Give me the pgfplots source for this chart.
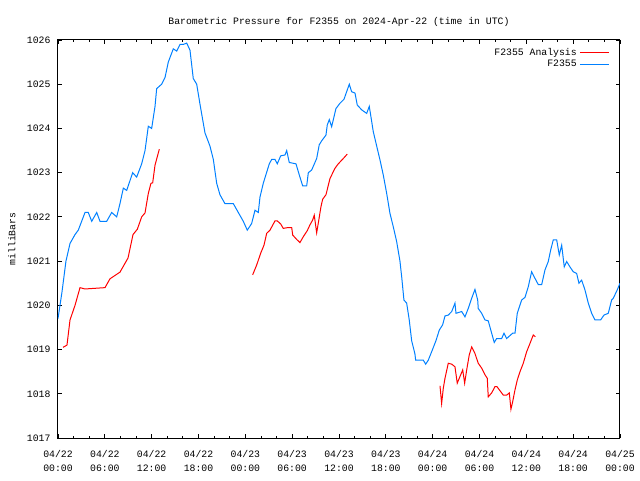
\documentclass[border=0pt]{standalone}
\usepackage{pgfplots}
\pgfplotsset{compat=1.18}
\usepackage{fontspec}
\setmainfont{Liberation Mono}
\definecolor{cblue}{RGB}{0,128,255}
\definecolor{cred}{RGB}{255,0,0}
\begin{document}
\fontsize{7.35}{9.75}\selectfont
\begin{tikzpicture}[x=1pt,y=1pt]
\useasboundingbox (-43.5,-31.5) rectangle (436.5,328.5);
\begin{axis}[
  at={(0,0)}, anchor=south west,
  scale only axis, width=421.5pt, height=298.5pt,
  xmin=0, xmax=72, ymin=1017, ymax=1026,
  xtick={0,6,...,72}, minor x tick num=2,
  ytick={1017,1018,...,1026},
  xticklabels={{04/22\\00:00},{04/22\\06:00},{04/22\\12:00},{04/22\\18:00},{04/23\\00:00},{04/23\\06:00},{04/23\\12:00},{04/23\\18:00},{04/24\\00:00},{04/24\\06:00},{04/24\\12:00},{04/24\\18:00},{04/25\\00:00}},
  xticklabel style={align=center, font=\fontsize{7.35}{10}\selectfont, yshift=-7pt},
  yticklabel style={xshift=-3pt},
  /pgf/number format/assume math mode=true,
  /pgf/number format/1000 sep={},
  major tick length=3pt, minor tick length=1.5pt,
  tick style={black, line width=0.6pt},
  axis line style={line width=0.75pt},
  title={Barometric Pressure for F2355 on 2024-Apr-22 (time in UTC)},
  title style={at={(axis description cs:0.5,1)}, anchor=center, yshift=7.5pt},
  ylabel={milliBars},
  ylabel style={at={(axis description cs:-0.0819,0.5)}, anchor=center, rotate=0},
  unbounded coords=jump,
  legend style={draw=none, fill=none, at={(axis description cs:1,1)}, anchor=north east, xshift=-5pt, yshift=-2pt, row sep=-1.5pt},
  legend plot pos=right,
  legend cell align=right,
  legend image code/.code={\draw[#1] (0pt,0pt) -- (21.5pt,0pt);},
]
\addplot[cred, line width=0.75pt] coordinates {
(0.64,1019.05) (1.15,1019.1) (1.54,1019.67) (2.18,1020.0) (2.82,1020.4) (3.46,1020.37)
(6.02,1020.4) (6.66,1020.6) (7.94,1020.75) (8.97,1021.07) (9.61,1021.6) (10.16,1021.72)
(10.72,1022.0) (11.15,1022.09) (11.57,1022.53) (11.91,1022.76) (12.13,1022.77) (12.43,1023.17) (12.98,1023.53)
(18,nan)
(24.94,1020.69) (25.45,1020.91) (25.97,1021.18) (26.39,1021.36) (26.74,1021.63) (27.16,1021.7)
(27.80,1021.91) (28.09,1021.91) (28.53,1021.84) (28.86,1021.74) (29.50,1021.76) (29.94,1021.76)
(30.07,1021.59) (30.58,1021.49) (31.00,1021.42) (31.42,1021.55) (31.94,1021.69) (32.28,1021.82)
(32.63,1021.93) (32.83,1022.04) (33.14,1021.64) (33.35,1021.86) (33.69,1022.23) (33.91,1022.4)
(34.33,1022.5) (34.85,1022.87) (35.49,1023.1) (35.91,1023.2) (36.55,1023.32) (37.06,1023.42)
(42,nan)
(48.94,1018.18) (49.15,1017.78) (49.36,1018.12) (49.58,1018.35) (50.00,1018.69) (50.44,1018.67)
(50.86,1018.61) (51.15,1018.24) (51.50,1018.39) (51.85,1018.54) (52.10,1018.24) (52.36,1018.54)
(52.69,1018.88) (53.00,1019.06) (53.42,1018.91) (53.84,1018.69) (54.28,1018.58) (54.70,1018.43)
(55.00,1018.35) (55.12,1017.93) (55.56,1018.02) (55.98,1018.16) (56.24,1018.16) (56.71,1018.05)
(57.05,1017.97) (57.48,1017.97) (57.82,1018.02) (58.03,1017.65) (58.25,1017.82) (58.55,1018.09)
(58.84,1018.31) (59.19,1018.5) (59.61,1018.69) (60.04,1018.95) (60.47,1019.14) (60.89,1019.33) (61.15,1019.29)
};
\addlegendentry{F2355 Analysis}
\addplot[cblue, line width=0.75pt] coordinates {
(0.00,1019.7) (0.51,1020.3) (1.02,1021.0) (1.54,1021.4) (2.18,1021.6) (2.60,1021.7)
(3.46,1022.1) (3.88,1022.1) (4.32,1021.9) (4.96,1022.1) (5.38,1021.9) (6.24,1021.9)
(6.88,1022.1) (7.52,1022.0) (7.94,1022.3) (8.37,1022.65) (8.80,1022.6) (9.57,1023.0)
(10.08,1022.9) (10.72,1023.2) (11.15,1023.5) (11.57,1024.05) (12.00,1024.0) (12.43,1024.5)
(12.64,1024.9) (13.28,1025.0) (13.71,1025.15) (14.13,1025.5) (14.77,1025.8) (15.21,1025.75)
(15.63,1025.9) (16.05,1025.9) (16.49,1025.93) (16.91,1025.77) (17.33,1025.13) (17.77,1025.0)
(18.19,1024.55) (18.83,1023.9) (19.47,1023.6) (19.90,1023.3) (20.33,1022.76) (20.75,1022.5)
(21.39,1022.3) (22.46,1022.3) (23.10,1022.1) (23.74,1021.9) (24.25,1021.7) (24.81,1021.85)
(25.24,1022.15) (25.66,1022.1) (25.88,1022.45) (26.30,1022.76) (27.07,1023.2) (27.38,1023.3)
(27.80,1023.3) (28.09,1023.2) (28.53,1023.38) (29.08,1023.4) (29.30,1023.5) (29.63,1023.23)
(30.49,1023.2) (30.91,1022.95) (31.35,1022.7) (31.86,1022.7) (32.07,1023.0) (32.50,1023.06)
(33.14,1023.32) (33.47,1023.63) (33.78,1023.72) (34.33,1023.85) (34.50,1024.08) (34.76,1024.2)
(35.06,1024.04) (35.61,1024.45) (36.13,1024.57) (36.64,1024.66) (36.98,1024.83) (37.32,1025.0)
(37.62,1024.83) (38.05,1024.8) (38.34,1024.53) (38.91,1024.42) (39.55,1024.34) (39.88,1024.5)
(40.06,1024.3) (40.39,1023.93) (40.83,1023.6) (41.25,1023.29) (41.67,1022.95) (42.11,1022.53)
(42.53,1022.08) (42.95,1021.78) (43.39,1021.44) (43.81,1021.0) (44.03,1020.65) (44.32,1020.12)
(44.67,1020.05) (45.00,1019.67) (45.31,1019.2) (45.73,1018.9) (45.82,1018.76) (46.80,1018.76)
(47.11,1018.67) (47.44,1018.76) (47.87,1018.95) (48.42,1019.2) (48.85,1019.44) (49.28,1019.56)
(49.58,1019.76) (50.00,1019.78) (50.44,1019.86) (50.86,1020.05) (50.99,1019.82) (51.72,1019.86)
(52.14,1019.74) (52.56,1019.93) (53.00,1020.16) (53.42,1020.36) (53.77,1020.12) (53.84,1019.93)
(54.28,1019.82) (54.70,1019.67) (55.12,1019.65) (55.56,1019.37) (55.89,1019.16) (56.20,1019.25)
(56.84,1019.25) (57.14,1019.37) (57.48,1019.25) (58.25,1019.37) (58.55,1019.37) (58.84,1019.82)
(59.40,1020.12) (59.83,1020.18) (60.25,1020.42) (60.68,1020.76) (61.11,1020.61) (61.53,1020.47)
(61.97,1020.47) (62.39,1020.8) (62.81,1020.99) (63.12,1021.25) (63.45,1021.48) (63.89,1021.48)
(64.22,1021.14) (64.53,1021.36) (64.86,1020.87) (65.17,1020.99) (65.59,1020.87) (66.01,1020.76)
(66.45,1020.72) (66.74,1020.5) (67.09,1020.57) (67.51,1020.35) (67.94,1020.05) (68.37,1019.82)
(68.80,1019.67) (69.52,1019.67) (69.95,1019.78) (70.50,1019.82) (70.93,1020.12) (71.14,1020.16)
(71.65,1020.35) (72.00,1020.5)
};
\addlegendentry{F2355}
\end{axis}
\end{tikzpicture}
\end{document}
